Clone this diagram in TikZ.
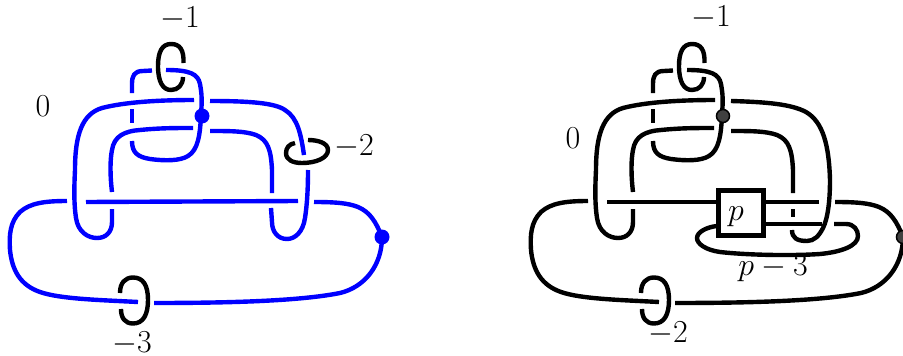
\documentclass[tikz,border=0pt]{standalone}
\usepackage{fix-cm}
\tikzset{
  knot/.style={line width=4.4pt,line cap=butt,line join=round},
  lab/.style={inner sep=0pt,font=\fontsize{32}{36}\selectfont,text=black},
}
% strands shared by both diagrams; #1 = colour of framed link
\newcommand{\sharedknot}[1]{%
  \draw[knot,#1] (152,70.5) -- (143,71) .. controls (134,71) and (132,76) .. (132,84) -- (132,93);
  \draw[knot,#1] (132,109) -- (132,123);
  \draw[knot,#1] (132,141) .. controls (132,153) and (138,157) .. (150,159) .. controls (165,161) and (180,161) .. (188,156) .. controls (198,150) and (200,135) .. (201,116) .. controls (202,100) and (202,95) .. (200,84) .. controls (198,74) and (190,70) .. (166,70);
  \draw[knot,#1] (194,100) .. controls (160,100) and (125,102) .. (102,108) .. controls (82,114) and (75,135) .. (75,170) .. controls (74,190) and (74,205) .. (76,218) .. controls (78,232) and (88,238) .. (97,238) .. controls (106,238) and (112,232) .. (112,222) -- (112,209);
  \draw[knot,#1] (112,192) .. controls (110,175) and (110,160) .. (112,150) .. controls (114,136) and (125,131) .. (140,130) .. controls (160,128) and (175,128) .. (193,128);
  \draw[knot,#1] (67,201) .. controls (45,201) and (30,203) .. (20,212) .. controls (10,222) and (9,235) .. (10,250) .. controls (12,270) and (20,285) .. (40,292) .. controls (60,299) and (100,300) .. (138,302);
  \draw[knot,#1] (154,303) .. controls (230,303) and (300,301) .. (340,293) .. controls (365,287) and (382,265) .. (382,237) .. controls (376,222) and (370,212) .. (358,207) .. controls (348,203) and (335,202) .. (314,202);
  \draw[knot,black] (183.5,63) .. controls (184,50) and (180,44) .. (171,44) .. controls (162,44) and (158,52) .. (158,66) .. controls (158,82) and (163,90) .. (171,90) .. controls (178,90) and (183,85) .. (183,77);
  \draw[knot,black] (120,293) .. controls (120,283) and (125,277.5) .. (133,277.5) .. controls (143,277.5) and (148,285) .. (148,300) .. controls (148,315) and (143,323.5) .. (133,323.5) .. controls (125,323.5) and (121,318) .. (121,309);
}
\begin{document}
\begin{tikzpicture}[x=1pt,y=-1pt]
\useasboundingbox (0,0) rectangle (903,356);
% ---------- left diagram
\sharedknot{blue}
\draw[knot,blue] (298,201) -- (86,202);
\draw[knot,blue] (210,101) .. controls (250,101) and (275,103) .. (285,110) .. controls (298,118) and (301,135) .. (304,155);
\draw[knot,blue] (308,170) .. controls (308,190) and (307,205) .. (305,218) .. controls (303,232) and (295,239) .. (287,239) .. controls (278,239) and (272,232) .. (272,222) -- (271,208);
\draw[knot,blue] (272,193) -- (272,170) .. controls (271,150) and (268,140) .. (256,135) .. controls (245,131) and (230,131) .. (210,131);
\draw[knot,black] (295,143) .. controls (289,144) and (286,148) .. (286,153) .. controls (286,160) and (293,163) .. (302,163) .. controls (316,163) and (328,158) .. (328,150) .. controls (328,143) and (318,140) .. (308,140);
\fill[blue] (202,116) circle (7.5);
\fill[blue] (382,237) circle (7.5);
\node[lab] (la) at (180,19) {$-1$};
\node[lab] (lb) at (43,106) {$0$};
\node[lab] (lc) at (354,147) {$-2$};
\node[lab] (ld) at (132,344) {$-3$};
% ---------- right diagram
\begin{scope}[xshift=521pt]
\sharedknot{black}
\draw[knot] (298,202) -- (86,202);
\draw[knot] (210,101) .. controls (245,102) and (270,104) .. (285,112) .. controls (302,122) and (308,145) .. (309,180) .. controls (309,200) and (307,218) .. (302,228) .. controls (298,236) and (293,241) .. (286,241) .. controls (276,241) and (271,238) .. (271,230);
\draw[knot] (272,209) -- (272,217);
\draw[knot] (272,193) -- (272,170) .. controls (271,150) and (268,140) .. (256,135) .. controls (245,131) and (230,131) .. (210,131);
\draw[knot] (244,224) -- (301,224);
\draw[knot] (313,224) -- (325,224) .. controls (333,224) and (337,230) .. (337,236) .. controls (337,246) and (320,252) .. (299,254) .. controls (270,256) and (225,255) .. (199,252) .. controls (185,250) and (176,244) .. (176,238) .. controls (176,232) and (186,227) .. (196,226);
\end{scope}
\node[draw=black,line width=4.6pt,fill=white,minimum width=44.5pt,minimum height=45.5pt,inner sep=0pt] (pbox) at (741,213) {};
\node[lab] (pl) at (736,217) {$p$};
\filldraw[fill=black!75,draw=black,line width=1.5pt] (723,116) circle (6.5);
\filldraw[fill=black!75,draw=black,line width=1.5pt] (903,237) circle (6.5);
\node[lab] (ra) at (711,18) {$-1$};
\node[lab] (rb) at (573,138) {$0$};
\node[lab] (rc) at (668,334) {$-2$};
\node[lab] (rd) at (773,268) {$p-3$};
\end{tikzpicture}
\end{document}
